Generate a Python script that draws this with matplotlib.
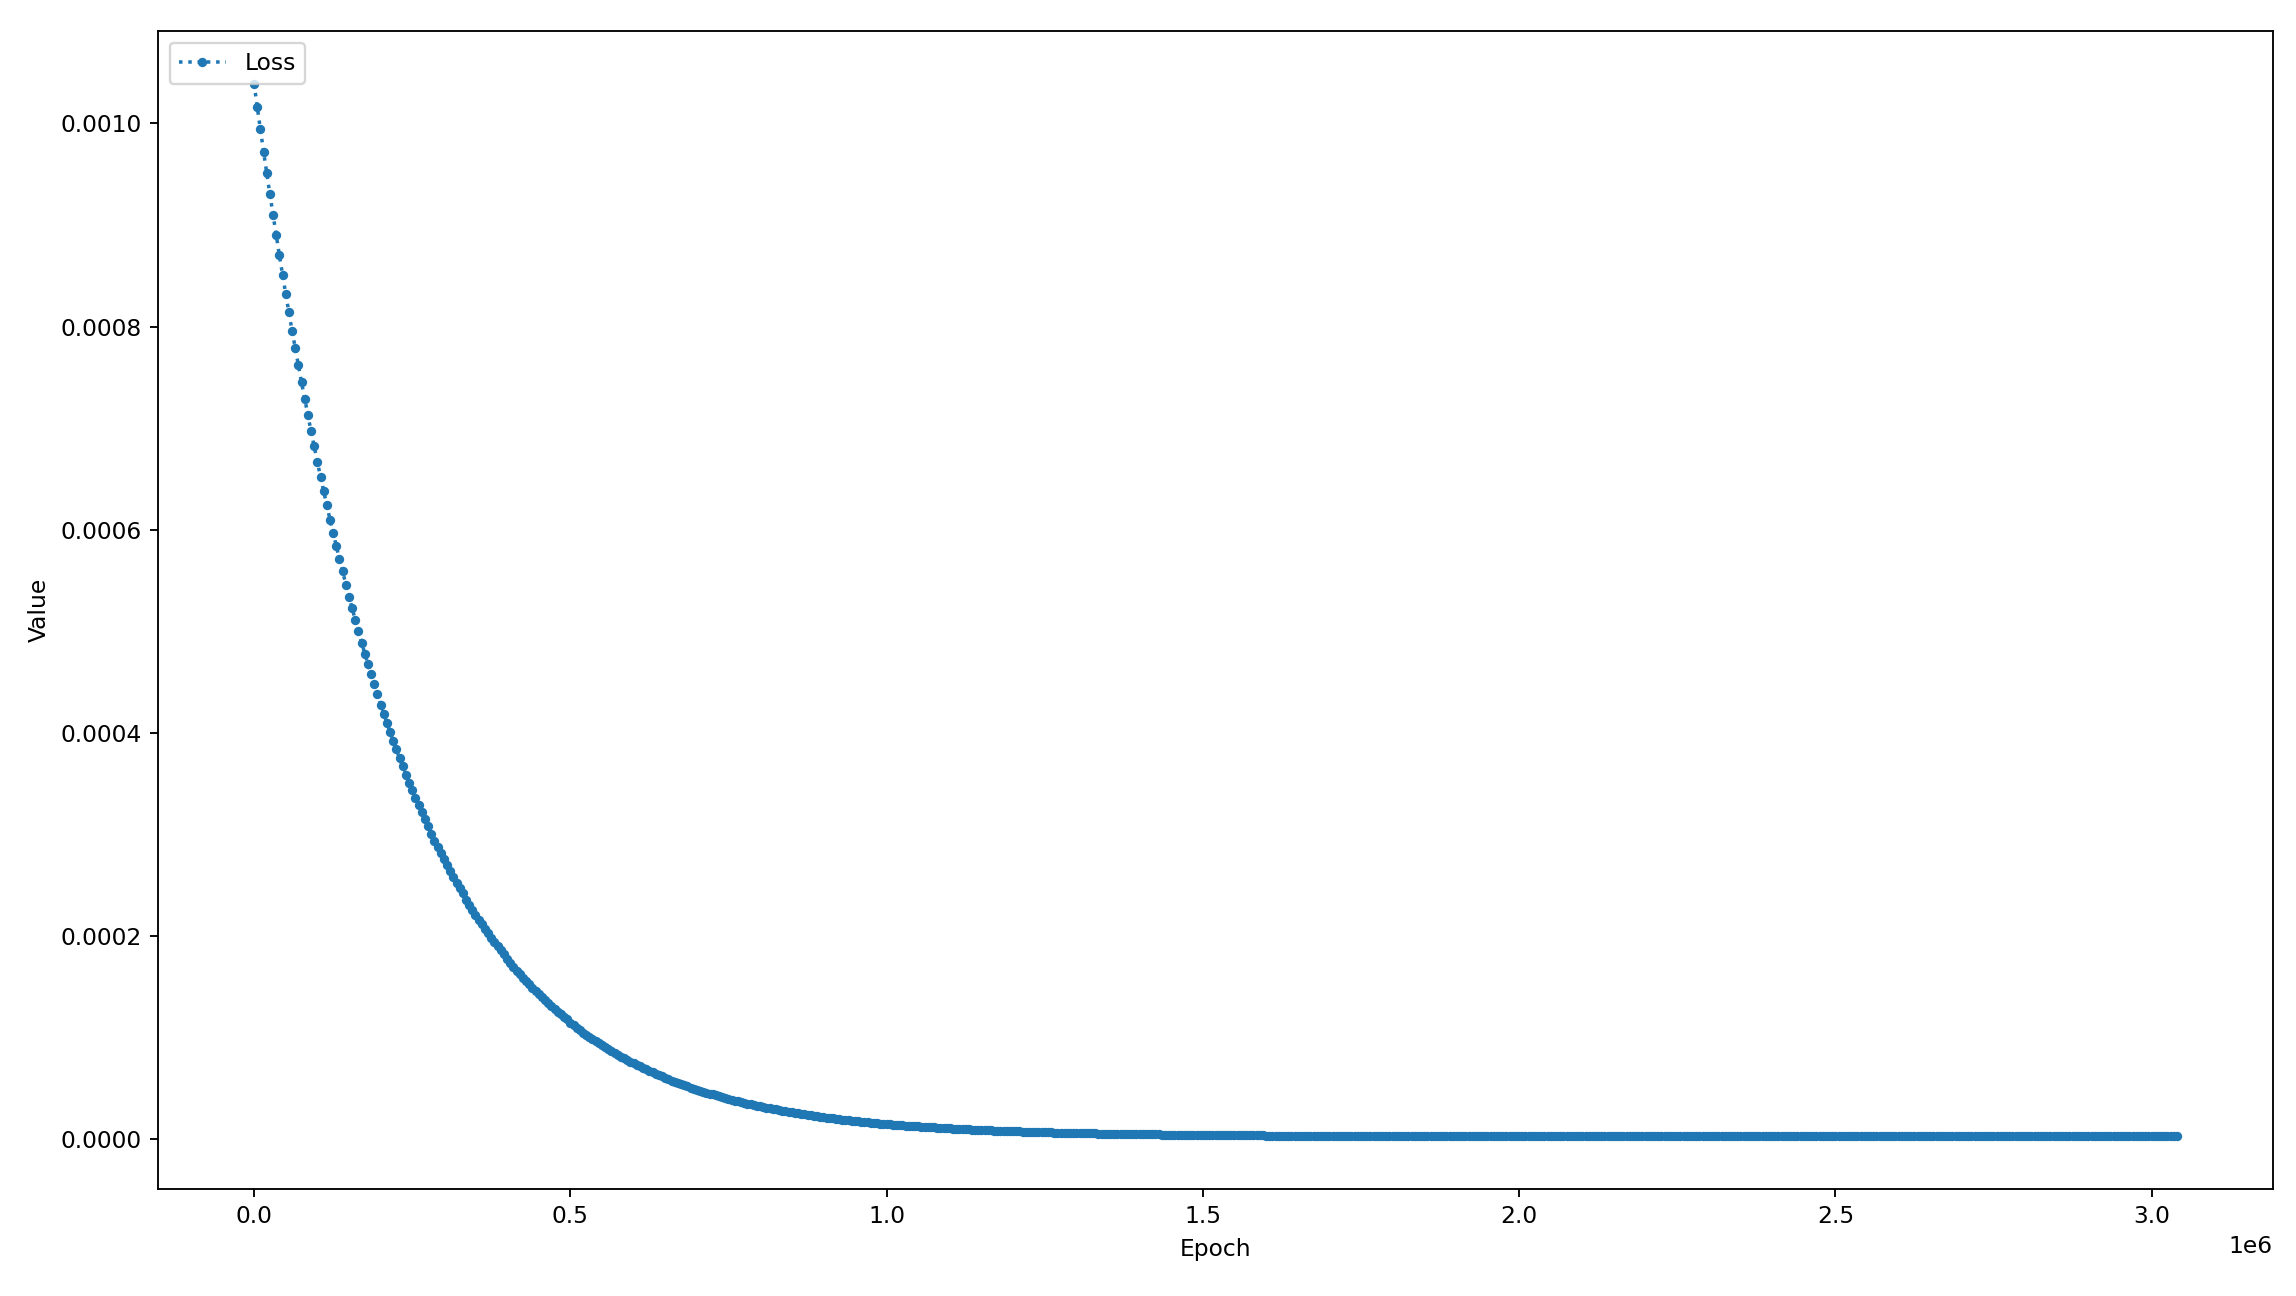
import numpy as np
import matplotlib
matplotlib.use("Agg")
import matplotlib.pyplot as plt

log_every = 5000
loss_e6 = [
    1039, 1016, 994, 972, 951, 930, 910, 890, 870, 851,
    832, 814, 796, 779, 762, 745, 729, 713, 697, 682,
    667, 652, 638, 624, 610, 597, 584, 571, 559, 546,
    534, 523, 511, 500, 489, 478, 468, 458, 448, 438,
    428, 419, 410, 401, 392, 384, 375, 367, 359, 351,
    344, 336, 329, 322, 315, 308, 301, 294, 288, 282,
    276, 270, 264, 258, 252, 247, 242, 236, 231, 226,
    221, 216, 212, 207, 203, 198, 194, 190, 186, 182,
    178, 174, 170, 166, 163, 159, 156, 153, 149, 146,
    143, 140, 137, 134, 131, 128, 125, 123, 120, 118,
    115, 113, 110, 108, 105, 103, 101, 99, 97, 95,
    93, 91, 89, 87, 85, 83, 81, 80, 78, 76,
    75, 73, 72, 70, 69, 67, 66, 64, 63, 62,
    60.4, 59.1, 57.9, 56.7, 55.5, 54.4, 53.2, 52.1, 51.0, 50.0,
    49.0, 48.0, 47.0, 46.0, 45.1, 44.2, 43.3, 42.4, 41.5, 40.7,
    39.8, 39.0, 38.2, 37.4, 36.7, 35.9, 35.2, 34.5, 33.8, 33.1,
    32.5, 31.9, 31.2, 30.6, 30.0, 29.4, 28.8, 28.2, 27.7, 27.1,
    26.6, 26.1, 25.6, 25.1, 24.6, 24.1, 23.7, 23.2, 22.8, 22.3,
    21.9, 21.5, 21.1, 20.7, 20.3, 19.9, 19.5, 19.2, 18.8, 18.5,
    18.1, 17.8, 17.4, 17.1, 16.8, 16.5, 16.2, 15.9, 15.6, 15.4,
    15.1, 14.8, 14.6, 14.3, 14.1, 13.8, 13.6, 13.4, 13.1, 12.9,
    12.7, 12.5, 12.3, 12.1, 11.9, 11.7, 11.5, 11.3, 11.1, 10.9,
    10.8, 10.6, 10.4, 10.3, 10.1, 9.9, 9.8, 9.6, 9.5, 9.3,
    9.2, 9.1, 8.9, 8.8, 8.7, 8.6, 8.4, 8.3, 8.2, 8.1,
    8.0, 7.9, 7.8, 7.7, 7.6, 7.5, 7.4, 7.3, 7.2, 7.1,
    7.0, 6.9, 6.8, 6.7, 6.6, 6.6, 6.5, 6.4, 6.3, 6.3,
    6.2, 6.1, 6.0, 6.0, 5.9, 5.8, 5.8, 5.7, 5.7, 5.6,
    5.5, 5.5, 5.4, 5.4, 5.3, 5.3, 5.2, 5.2, 5.1, 5.1,
    5.0, 5.0, 5.0, 4.9, 4.9, 4.8, 4.8, 4.7, 4.7, 4.7,
    4.6, 4.6, 4.6, 4.5, 4.5, 4.5, 4.4, 4.4, 4.4, 4.3,
    4.3, 4.3, 4.3, 4.2, 4.2, 4.2, 4.1, 4.1, 4.1, 4.1,
    4.0, 4.0, 4.0, 4.0, 4.0, 3.9, 3.9, 3.9, 3.9, 3.9,
    3.8, 3.8, 3.8, 3.8, 3.8, 3.8, 3.7, 3.7, 3.7, 3.7,
    3.7, 3.7, 3.6, 3.6, 3.6, 3.6, 3.6, 3.6, 3.6, 3.5,
    3.5, 3.5, 3.5, 3.5, 3.5, 3.5, 3.5, 3.5, 3.5, 3.4,
    3.4, 3.4, 3.4, 3.4, 3.4, 3.4, 3.4, 3.4, 3.4, 3.4,
    3.3, 3.3, 3.3, 3.3, 3.3, 3.3, 3.3, 3.3, 3.3, 3.3,
    3.3, 3.3, 3.3, 3.3, 3.3, 3.3, 3.3, 3.3, 3.3, 3.3,
    3.2, 3.2, 3.2, 3.2, 3.2, 3.2, 3.2, 3.2, 3.2, 3.2,
    3.2, 3.2, 3.2, 3.2, 3.2, 3.2, 3.2, 3.2, 3.2, 3.2,
    3.1, 3.1, 3.1, 3.1, 3.1, 3.1, 3.1, 3.1, 3.1, 3.1,
    3.1, 3.1, 3.1, 3.1, 3.1, 3.1, 3.1, 3.1, 3.1, 3.1,
    3.1, 3.1, 3.1, 3.1, 3.1, 3.1, 3.1, 3.1, 3.1, 3.1,
    3.1, 3.1, 3.1, 3.1, 3.1, 3.1, 3.1, 3.1, 3.1, 3.1,
    3.1, 3.1, 3.1, 3.1, 3.1, 3.0, 3.0, 3.0, 3.0, 3.0,
    3.0, 3.0, 3.0, 3.0, 3.0, 3.0, 3.0, 3.0, 3.0, 3.0,
    3.0, 3.0, 3.0, 3.0, 3.0, 3.0, 3.0, 3.0, 3.0, 3.0,
    3.0, 3.0, 3.0, 3.0, 3.0, 3.0, 3.0, 3.0, 3.0, 3.0,
    3.0, 3.0, 3.0, 3.0, 3.0, 3.0, 3.0, 3.0, 3.0, 3.0,
    3.0, 3.0, 3.0, 3.0, 3.0, 3.0, 3.0, 3.0, 3.0, 3.0,
    3.0, 3.0, 3.0, 3.0, 3.0, 3.0, 3.0, 3.0, 3.0, 3.0,
    3.0, 3.0, 3.0, 3.0, 3.0, 3.0, 3.0, 3.0, 3.0, 3.0,
    3.0, 3.0, 3.0, 3.0, 3.0, 3.0, 3.0, 3.0, 3.0, 3.0,
    3.0, 3.0, 3.0, 3.0, 3.0, 3.0, 3.0, 3.0, 3.0, 3.0,
    3.0, 3.0, 3.0, 3.0, 3.0, 3.0, 3.0, 3.0, 3.0, 3.0,
    3.0, 3.0, 3.0, 3.0, 3.0, 3.0, 3.0, 3.0, 3.0, 3.0,
    3.0, 3.0, 3.0, 3.0, 3.0, 3.0, 3.0, 3.0, 3.0, 3.0,
    3.0, 3.0, 3.0, 3.0, 3.0, 3.0, 3.0, 3.0, 3.0, 3.0,
    3.0, 3.0, 3.0, 3.0, 3.0, 3.0, 3.0, 3.0, 3.0, 3.0,
    3.0, 3.0, 3.0, 3.0, 3.0, 3.0, 3.0, 3.0, 3.0, 3.0,
    3.0, 3.0, 3.0, 3.0, 3.0, 3.0, 3.0, 3.0, 3.0,
]

loss = np.array(loss_e6) * 1e-6
epochs = np.arange(len(loss)) * log_every

dpi = 168
fig = plt.figure(figsize=(2296 / dpi, 1296 / dpi), dpi=dpi)
ax = fig.add_subplot(111)
fig.subplots_adjust(left=0.0688, right=0.990, bottom=0.0826, top=0.976)

ax.plot(epochs, loss, linestyle=':', marker='.', color='#1f77b4', label='Loss')

ax.set_xlabel('Epoch')
ax.set_ylabel('Value')
ax.legend(loc='upper left')

fig.savefig('out.png', dpi=dpi)
